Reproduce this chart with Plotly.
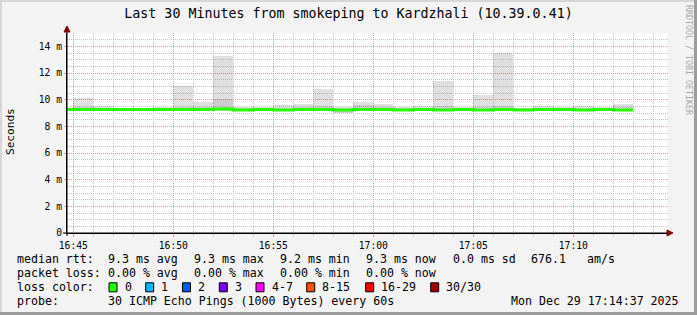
import plotly.graph_objects as go

DAY = "2025-12-29 "
TITLE = "Last 30 Minutes from smokeping to Kardzhali (10.39.0.41)"

# ---- data -------------------------------------------------------------
smoke_minutes = ["16:45", "16:46", "16:47", "16:48", "16:49", "16:50", "16:51",
                 "16:52", "16:53", "16:54", "16:55", "16:56", "16:57", "16:58",
                 "16:59", "17:00", "17:01", "17:02", "17:03", "17:04", "17:05",
                 "17:06", "17:07", "17:08", "17:09", "17:10", "17:11", "17:12"]
smoke_max = [10.13, 9.56, 9.38, 9.38, 9.46, 11.05, 9.85,
             13.30, 9.45, 9.45, 9.62, 9.70, 10.81, 9.45,
             9.85, 9.65, 9.45, 9.53, 11.39, 9.42, 10.32,
             13.52, 9.40, 9.53, 9.45, 9.53, 9.45, 9.70]
smoke_min = [9.18, 9.20, 9.20, 9.20, 9.20, 9.18, 9.18,
             9.18, 9.16, 9.18, 9.16, 9.18, 9.18, 9.02,
             9.18, 9.18, 9.16, 9.18, 9.16, 9.18, 9.16,
             9.18, 9.16, 9.18, 9.18, 9.16, 9.18, 9.16]
smoke_core = [9.45, 9.38, 9.36, 9.36, 9.38, 9.45, 9.45,
              10.03, 9.36, 9.36, 9.40, 9.42, 9.50, 9.36,
              9.62, 9.45, 9.36, 9.40, 9.50, 9.36, 9.45,
              9.55, 9.36, 9.40, 9.36, 9.40, 9.36, 9.45]

median_minutes = ["16:44", "16:45", "16:46", "16:47", "16:48", "16:49", "16:50",
                  "16:51", "16:52", "16:53", "16:54", "16:55", "16:56", "16:57",
                  "16:58", "16:59", "17:00", "17:01", "17:02", "17:03", "17:04",
                  "17:05", "17:06", "17:07", "17:08", "17:09", "17:10", "17:11",
                  "17:12", "17:13"]
median_rtt = [9.27, 9.27, 9.27, 9.27, 9.27, 9.27, 9.27,
              9.27, 9.30, 9.23, 9.27, 9.23, 9.27, 9.27,
              9.23, 9.27, 9.27, 9.23, 9.27, 9.23, 9.27,
              9.23, 9.27, 9.23, 9.27, 9.27, 9.23, 9.27,
              9.23, 9.23]

y_tick_values = [0, 2, 4, 6, 8, 10, 12, 14]
y_tick_labels = ["0", "2 m", "4 m", "6 m", "8 m", "10 m", "12 m", "14 m"]
x_window = ["16:44:41", "17:14:44"]

rtt_label = "median rtt:"
rtt_stats = ["9.3 ms avg", "9.3 ms max", "9.2 ms min", "9.3 ms now",
             "0.0 ms sd", "676.1", "am/s"]
loss_label = "packet loss:"
loss_stats = ["0.00 % avg", "0.00 % max", "0.00 % min", "0.00 % now"]
color_label = "loss color:"
loss_names = ["0", "1", "2", "3", "4-7", "8-15", "16-29", "30/30"]
loss_colors = ["#26ff00", "#00b8ff", "#0059ff", "#7e00ff",
               "#ff00ff", "#ff5500", "#ff0000", "#a10000"]
probe_label = "probe:"
probe_text = "30 ICMP Echo Pings (1000 Bytes) every 60s"
stamp_text = "Mon Dec 29 17:14:37 2025"
credit_text = "RRDTOOL / TOBI OETIKER"

# ---- layout constants (pixels) ---------------------------------------
W, H = 697, 315
PL, PR, PT, PB = 67, 668, 33, 233
MONO = "DejaVu Sans Mono"
BG = "#f3f3f3"
MAJOR = "#e39a9a"
MINOR = "#c6c6c6"


def fx(x):
    return (x - PL) / (PR - PL)


def fy(y):
    return (PB - y) / (PB - PT)


def t(m):
    return DAY + m if len(m) > 5 else DAY + m + ":00"


fig = go.Figure()

# smoke (outer range)
fig.add_trace(go.Bar(
    x=[t(m) for m in smoke_minutes],
    y=[a - b for a, b in zip(smoke_max, smoke_min)],
    base=smoke_min, width=60000, offset=0,
    marker=dict(color="rgba(0,0,0,0.12)", line=dict(width=0)),
    hoverinfo="skip", showlegend=False))
# smoke (dense core)
fig.add_trace(go.Bar(
    x=[t(m) for m in smoke_minutes],
    y=[a - b for a, b in zip(smoke_core, smoke_min)],
    base=smoke_min, width=60000, offset=0,
    marker=dict(color="rgba(0,0,0,0.08)", line=dict(width=0)),
    hoverinfo="skip", showlegend=False))
# median line
fig.add_trace(go.Scatter(
    x=[t(m) for m in median_minutes], y=median_rtt,
    mode="lines", line=dict(color="#26ff00", width=3, shape="hv"),
    hoverinfo="skip", showlegend=False))

dash = "1px,1px"
fig.update_layout(
    width=W, height=H, barmode="overlay", bargap=0,
    margin=dict(l=PL, r=W - PR, t=PT, b=H - PB, pad=0),
    paper_bgcolor=BG, plot_bgcolor="#ffffff",
    font=dict(family=MONO, color="#000000", size=10),
    title=dict(text=TITLE, x=0.5, xref="container", xanchor="center",
               y=1 - 13 / H, yref="container", yanchor="middle",
               font=dict(family=MONO, size=13.3, color="#000000")),
    xaxis=dict(
        type="date", range=[t(x_window[0]), t(x_window[1])],
        tick0=t("16:45"), dtick=300000, tickformat="%H:%M",
        showgrid=True, gridcolor=MAJOR, griddash=dash, gridwidth=1,
        minor=dict(dtick=60000, showgrid=True, gridcolor=MINOR,
                   griddash=dash, ticks="outside", ticklen=2,
                   tickcolor=MINOR),
        ticks="outside", ticklen=3, tickcolor=MAJOR,
        tickfont=dict(family=MONO, size=9.7),
        showline=True, linecolor="#000000", linewidth=1,
        zeroline=False, fixedrange=True),
    yaxis=dict(
        range=[0, 15], tickvals=y_tick_values, ticktext=y_tick_labels,
        showgrid=True, gridcolor=MAJOR, griddash=dash, gridwidth=1,
        minor=dict(dtick=0.5, tick0=0, showgrid=True, gridcolor=MINOR,
                   griddash=dash),
        ticks="outside", ticklen=2, tickcolor=MAJOR,
        tickfont=dict(family=MONO, size=9.7),
        showline=True, linecolor="#000000", linewidth=1,
        zeroline=False, fixedrange=True),
)

shapes = []
ann = []

# axis extensions and arrows
shapes.append(dict(type="line", xref="paper", yref="paper",
                   x0=fx(63), x1=fx(669), y0=0, y1=0,
                   line=dict(color="#000000", width=1)))
shapes.append(dict(type="line", xref="paper", yref="paper",
                   x0=0, x1=0, y0=fy(236), y1=fy(29),
                   line=dict(color="#000000", width=1)))
shapes.append(dict(type="path", xref="paper", yref="paper",
                   path=f"M {fx(667)} {fy(230)} L {fx(673)} {fy(233)} L {fx(667)} {fy(236)} Z",
                   fillcolor="#800000", line=dict(color="#800000", width=1)))
shapes.append(dict(type="path", xref="paper", yref="paper",
                   path=f"M {fx(64)} {fy(32)} L {fx(67)} {fy(26)} L {fx(70)} {fy(32)} Z",
                   fillcolor="#800000", line=dict(color="#800000", width=1)))

# 3D frame
shapes.append(dict(type="rect", xref="paper", yref="paper",
                   x0=fx(0), x1=fx(2), y0=fy(0), y1=fy(H),
                   fillcolor="#d6d6d6", line=dict(width=0)))
shapes.append(dict(type="rect", xref="paper", yref="paper",
                   x0=fx(0), x1=fx(W), y0=fy(0), y1=fy(2),
                   fillcolor="#d6d6d6", line=dict(width=0)))
shapes.append(dict(type="rect", xref="paper", yref="paper",
                   x0=fx(W - 3), x1=fx(W), y0=fy(0), y1=fy(H),
                   fillcolor="#9c9c9c", line=dict(width=0)))
shapes.append(dict(type="rect", xref="paper", yref="paper",
                   x0=fx(0), x1=fx(W), y0=fy(H - 3), y1=fy(H),
                   fillcolor="#9c9c9c", line=dict(width=0)))


def text(x, y, s, size=11.6, color="#000000", anchor="left", angle=0):
    ann.append(dict(x=fx(x), y=fy(y), xref="paper", yref="paper",
                    text=s, showarrow=False, xanchor=anchor, yanchor="middle",
                    textangle=angle, borderpad=0,
                    font=dict(family=MONO, size=size, color=color)))


# y axis title
text(10, 132, "Seconds", size=11.1, anchor="center", angle=-90)
# credit
text(689, 60, credit_text, size=8.3, color="#a8a8a8", anchor="center", angle=90)

rows_y = [259.3, 273.3, 287.3, 301.0]
col_x = [107, 193, 279, 365, 452, 530, 586]

text(16, rows_y[0], rtt_label)
for xx, s in zip(col_x, rtt_stats):
    text(xx, rows_y[0], s)
text(16, rows_y[1], loss_label)
for xx, s in zip(col_x, loss_stats):
    text(xx, rows_y[1], s)
text(16, rows_y[2], color_label)
box_x = [109, 145.7, 182.5, 219.3, 256, 306.7, 365.7, 430.7]
for bx, name, col in zip(box_x, loss_names, loss_colors):
    shapes.append(dict(type="rect", xref="paper", yref="paper",
                       x0=fx(bx), x1=fx(bx + 8), y0=fy(rows_y[2] - 4.5),
                       y1=fy(rows_y[2] + 4.5), fillcolor=col,
                       line=dict(color="#000000", width=1)))
    text(bx + 14.5, rows_y[2], name)
text(16, rows_y[3], probe_label)
text(107, rows_y[3], probe_text)
text(680, rows_y[3], stamp_text, anchor="right")

fig.update_layout(shapes=shapes, annotations=ann)
fig.write_html("out.html")
